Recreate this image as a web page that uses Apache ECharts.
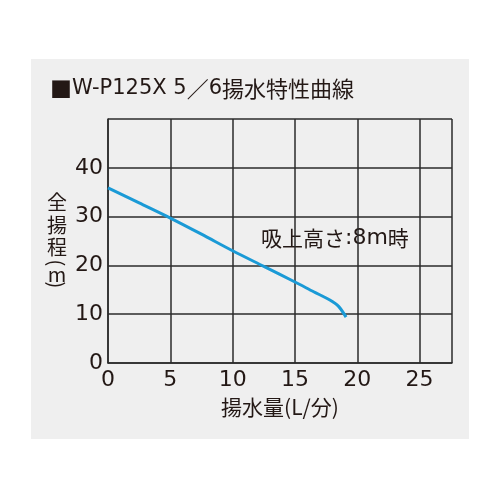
<!doctype html>
<html>
<head>
    <meta charset="utf-8">
    <title>W-P125X 揚水特性曲線</title>
    <script src="https://cdn.jsdelivr.net/npm/echarts@6/dist/echarts.min.js"></script>
    <style>
        body { margin: 0; background: #fff; }
    </style>
</head>
<body>
    <div id="container" style="width:500px;height:500px;"></div>
    <script type="text/javascript">
        // 揚水量(L/分)
        var flow = [0, 2.5, 5, 7.5, 10, 12.5, 15, 16.5, 17.8, 18.5, 19.1];
        // 全揚程(m)
        var head = [35.9, 32.8, 29.7, 26.4, 23.0, 19.8, 16.6, 14.6, 12.9, 11.6, 9.4];
        var xTicks = [0, 5, 10, 15, 20, 25];
        var yTicks = [0, 10, 20, 30, 40];

        var ink = '#231815';
        var font = '"Noto Sans CJK JP", "Noto Sans", sans-serif';
        var wide = '"DejaVu Sans", "Noto Sans CJK JP", sans-serif';

        var points = [];
        for (var i = 0; i < flow.length; i++) {
            points.push([flow[i], head[i]]);
        }

        // 縦書きの軸名「全揚程(m)」: 括弧だけ90度回す
        var yNameParts = [
            { t: '全', y: 202, r: 0 },
            { t: '揚', y: 225, r: 0 },
            { t: '程', y: 247, r: 0 },
            { t: '(', y: 263, r: -Math.PI / 2 },
            { t: 'm', y: 274, r: 0 },
            { t: ')', y: 285, r: -Math.PI / 2 }
        ];
        var yNameGraphics = yNameParts.map(function (p) {
            return {
                type: 'text',
                x: 57,
                y: p.y,
                rotation: p.r,
                style: {
                    text: p.t, fontSize: 20, fontFamily: font, fill: ink,
                    align: 'center', verticalAlign: 'middle'
                }
            };
        });

        var option = {
            animation: false,
            textStyle: { fontFamily: font, color: ink },
            title: {
                text: '{sq|■}W-P125X 5{cj|／}6{cj|揚水特性曲線}',
                left: 45,
                top: 73,
                textStyle: {
                    fontFamily: wide, fontSize: 21, fontWeight: 'normal', color: ink,
                    rich: {
                        sq: { fontFamily: font, fontSize: 22, color: ink },
                        cj: { fontFamily: font, fontSize: 22, color: ink }
                    }
                }
            },
            graphic: [
                {
                    type: 'rect',
                    z: -10,
                    shape: { x: 31, y: 59, width: 438, height: 380 },
                    style: { fill: '#efefef' }
                },
                {
                    type: 'text',
                    left: 261,
                    top: 227,
                    style: {
                        text: '{cj|吸上高さ}:8m{cj|時}',
                        fontSize: 22, fontFamily: wide, fill: ink,
                        rich: { cj: { fontFamily: font, fontSize: 21, color: ink } }
                    }
                }
            ].concat(yNameGraphics),
            grid: { left: 108, right: 48, top: 119, bottom: 137 },
            xAxis: {
                type: 'value',
                min: 0,
                max: 27.6,
                interval: 5,
                name: '揚水量(L/分)',
                nameLocation: 'middle',
                nameGap: 34,
                nameTextStyle: { fontSize: 21, color: ink, fontFamily: font },
                axisLine: { lineStyle: { color: '#2b2b2b', width: 1.5 } },
                axisTick: { show: false },
                axisLabel: {
                    fontSize: 22, color: ink, margin: 6, fontFamily: wide,
                    formatter: function (v) { return xTicks.indexOf(v) >= 0 ? String(v) : ''; }
                },
                splitLine: { lineStyle: { color: '#2b2b2b', width: 1.5 } }
            },
            yAxis: {
                type: 'value',
                min: 0,
                max: 50,
                interval: 10,
                axisLine: { show: true, lineStyle: { color: '#2b2b2b', width: 1.5 } },
                axisTick: { show: false },
                axisLabel: {
                    fontSize: 22, color: ink, margin: 5, fontFamily: wide,
                    formatter: function (v) { return yTicks.indexOf(v) >= 0 ? String(v) : ''; }
                },
                splitLine: { lineStyle: { color: '#2b2b2b', width: 1.5 } }
            },
            series: [
                {
                    type: 'line',
                    data: points,
                    smooth: 0.3,
                    showSymbol: false,
                    lineStyle: { color: '#1a9ad6', width: 3 }
                }
            ]
        };
        var myChart = echarts.init(document.getElementById('container'));
        myChart.setOption(option);
    </script>
</body>
</html>
